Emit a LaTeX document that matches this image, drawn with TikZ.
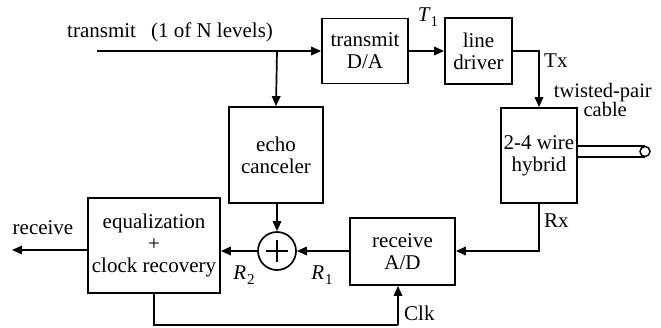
\documentclass[tikz,border=0pt]{standalone}
\usepackage{fontspec}
\setmainfont{Liberation Serif}
\usetikzlibrary{arrows.meta,calc}
\newcommand{\sublbl}[2]{{\itshape #1}\kern1pt\raisebox{-5pt}{\fontsize{15}{15}\selectfont #2}}
\begin{document}
\begin{tikzpicture}[x=1pt,y=-1pt,
  every node/.style={font=\fontsize{21}{22}\selectfont, inner sep=0pt},
  blk/.style={draw, line width=1.7pt, align=center},
  conn/.style={line width=1.7pt},
  arr/.style={conn, -{Triangle[length=10pt,width=8.5pt]}}]
\useasboundingbox (0,0) rectangle (661,327);
% blocks
\node[blk, minimum width=86pt, minimum height=65pt] (da) at (365,51) {transmit\\D/A};
\node[blk, minimum width=67pt, minimum height=66pt] (ld) at (478.5,51) {line\\driver};
\node[blk, minimum width=76pt, minimum height=95pt] (hy) at (539,155.5) {2-4 wire\\hybrid};
\node[blk, minimum width=94pt, minimum height=96pt] (ec) at (276,155) {echo\\canceler};
\node[blk, minimum width=105pt, minimum height=67pt] (ad) at (402.5,251.5) {receive\\A/D};
\node[blk, minimum width=132pt, minimum height=95pt] (eq) at (154,245.5) {equalization\\+\\clock recovery};
\node[draw, circle, line width=1.7pt, minimum size=38pt] (sum) at (277,251) {};
\draw[line width=1.4pt] ($(sum.center)+(-11,0)$) -- ++(22,0);
\draw[line width=1.4pt] ($(sum.center)+(0,-11)$) -- ++(0,22);
% coordinates
\coordinate (tin) at (97,51);
\coordinate (br) at (277,51);
\coordinate (rout) at (12,250);
\coordinate (txc) at (539,51);
\coordinate (rxc) at (539,251);
\coordinate (fb) at (398,325);
\coordinate (cab) at (645,151.5);
% connectors
\draw[arr] (tin) -- (da.west);
\draw[arr] (br) -- (ec.north);
\draw[arr] (da.east) -- (ld.west);
\draw[arr] (ld.east) -- (txc) -- (hy.north);
\draw[arr] (hy.south) -- (rxc) -- (ad.east |- rxc);
\draw[arr] (ad.west |- sum) -- (sum.east);
\draw[arr] (ec.south -| sum) -- (sum.north);
\draw[arr] (sum.west) -- (sum.west -| eq.east);
\draw[arr] (eq.west |- rout) -- (rout);
\draw[conn] (eq.south) |- (fb);
\draw[arr] (fb) -- (fb |- ad.south);
% cable
\draw[line width=1.5pt] (hy.east |- 0,146) -- (645,146);
\draw[line width=1.5pt] (hy.east |- 0,157) -- (645,157);
\node[draw, circle, line width=1.5pt, minimum size=10pt, fill=white] (cend) at (cab) {};
% labels
\node[anchor=west] (ttx) at (67,32) {transmit\hspace{15pt}(1 of N levels)};
\node (t1) at (428,17) {\sublbl{T}{1}};
\node[anchor=west] (tx) at (544,61) {Tx};
\node[anchor=east, align=right, font=\fontsize{20.5}{19}\selectfont] (tp) at (652,100) {twisted-pair\\cable\hspace*{25pt}};
\node[anchor=west] (rx) at (544,221) {Rx};
\node (rcv) at (43,228) {receive};
\node (r2) at (244,275) {\sublbl{R}{2}};
\node (r1) at (322,275) {\sublbl{R}{1}};
\node[anchor=west] (clk) at (404,313) {Clk};
\end{tikzpicture}
\end{document}
